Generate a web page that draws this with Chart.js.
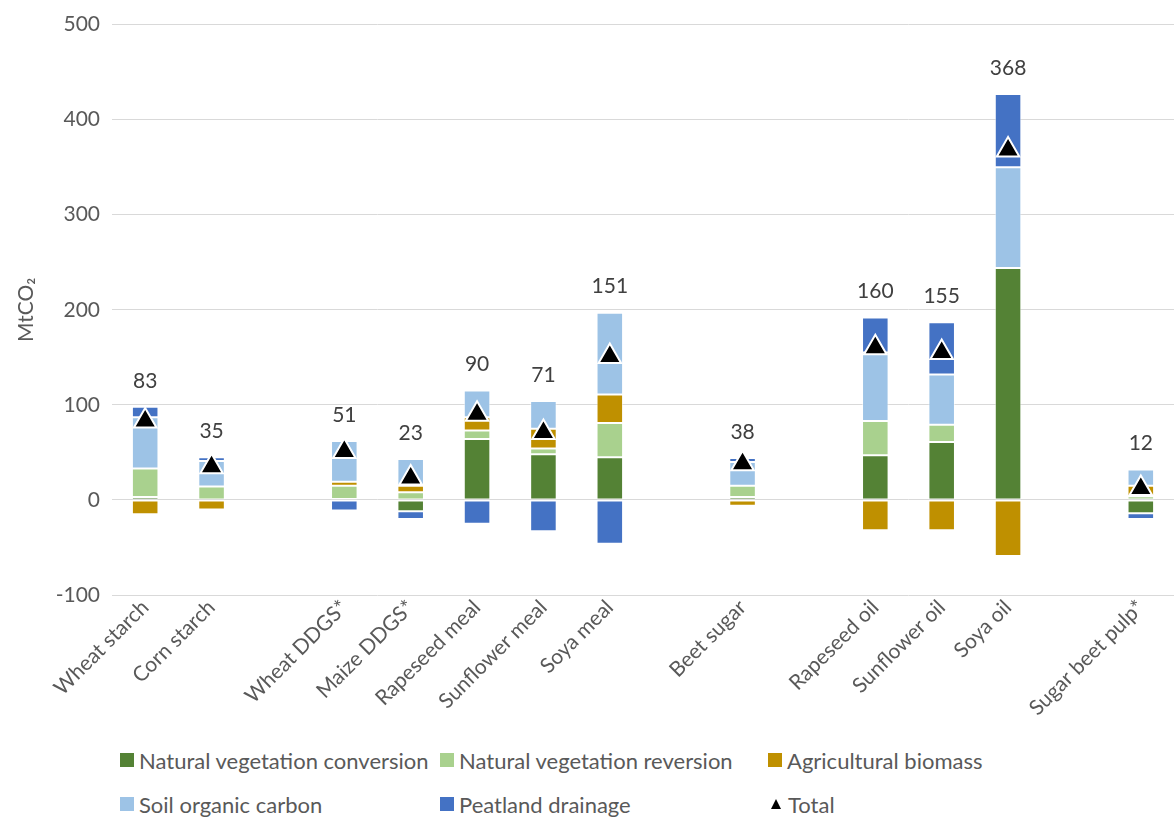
<!DOCTYPE html>
<html><head><meta charset="utf-8">
<script src="https://cdn.jsdelivr.net/npm/chart.js@4.4.1/dist/chart.umd.min.js"></script>
<style>
html,body{margin:0;padding:0;background:#fff;overflow:hidden;}
#wrap{position:relative;width:1174px;height:819px;overflow:hidden;}
#c{position:absolute;left:0;top:0;}
#legend{position:absolute;left:0;top:745px;width:1174px;font-family:Lato,"Open Sans",sans-serif;font-size:22px;color:#595959;}
.li{position:absolute;display:flex;align-items:center;white-space:nowrap;height:30px;}
.sw{width:14px;height:14px;margin-right:5px;}
.tri{width:0;height:0;border-left:5px solid transparent;border-right:5px solid transparent;border-bottom:10px solid #000;margin:0 7px 0 3px;}
</style></head>
<body><div id="wrap"><canvas id="c" width="1174" height="740"></canvas><div id="legend"></div></div>
<script>
const categories = ['Wheat starch','Corn starch','','Wheat DDGS*','Maize DDGS*','Rapeseed meal','Sunflower meal','Soya meal','','Beet sugar','','Rapeseed oil','Sunflower oil','Soya oil','','Sugar beet pulp*'];
const natVegConversion = [3,0,null,1,-12,64,48,45,null,3,null,47,61,244,null,-14];
const natVegReversion  = [30,14,null,14,8,9,6,36,null,12,null,36,18,0,null,4];
const agriBiomass      = [-15,-10,null,4,7,14,21,30,null,-6,null,-32,-32,-59,null,11];
const soilCarbon       = [54,27,null,43,28,28,29,86,null,25,null,72,53,106,null,17];
const peatDrainage     = [11,4,null,-11,-8,-25,-33,-46,null,4,null,37,55,77,null,-6];
const totals           = [83,35,null,51,23,90,71,151,null,38,null,160,155,368,null,12];
const yTicks = [-100,0,100,200,300,400,500];

const seriesNames = ['Natural vegetation conversion','Natural vegetation reversion','Agricultural biomass','Soil organic carbon','Peatland drainage'];
const seriesColors = ['#548235','#A9D18E','#BF9000','#9DC3E6','#4472C4'];
const seriesData = [natVegConversion,natVegReversion,agriBiomass,soilCarbon,peatDrainage];

const FONT = 'Lato, "Open Sans", sans-serif';
const datasets = seriesData.map((d,i)=>({
  type:'bar', label:seriesNames[i], data:d, backgroundColor:seriesColors[i],
  borderColor:'rgba(255,255,255,0.55)', borderWidth:1, borderSkipped:false,
  stack:'s', order:1, barPercentage:0.4, categoryPercentage:1
}));
datasets.push({
  type:'line', label:'Total', data:totals, showLine:false, stack:'t', order:0,
  pointStyle:'triangle', pointRadius:13, pointHoverRadius:13,
  pointBackgroundColor:'#000', pointBorderColor:'#fff', pointBorderWidth:2,
  borderColor:'#000', backgroundColor:'#000'
});

const totalLabels = {
  id:'totalLabels',
  afterDatasetsDraw(chart){
    const ctx = chart.ctx, x = chart.scales.x, y = chart.scales.y;
    ctx.save();
    ctx.font = '21px ' + FONT;
    ctx.fillStyle = '#404040';
    ctx.textAlign = 'center';
    ctx.textBaseline = 'middle';
    totals.forEach((t,i)=>{
      if(t===null) return;
      let top = 0;
      seriesData.forEach(d=>{ if(d[i]>0) top += d[i]; });
      const px = x.getPixelForValue(i);
      const py = y.getPixelForValue(top) - 26;
      ctx.fillText(String(t), px, py);
    });
    ctx.restore();
  }
};

new Chart(document.getElementById('c'), {
  data:{labels:categories, datasets},
  options:{
    responsive:false, animation:false,
    layout:{autoPadding:false, padding:{top:16,right:0,left:0,bottom:0}},
    plugins:{legend:{display:false}, tooltip:{enabled:false}},
    scales:{
      x:{
        stacked:true,
        grid:{display:false, drawTicks:false},
        border:{display:false},
        ticks:{color:'#595959', font:{family:FONT,size:21}, maxRotation:45, minRotation:45, autoSkip:false, padding:0},
        afterFit(s){ s.height = 145; }
      },
      y:{
        stacked:true, min:-100, max:500,
        afterBuildTicks(s){ s.ticks = yTicks.map(v=>({value:v})); },
        grid:{color:'#D9D9D9', lineWidth:1, drawTicks:false},
        border:{display:false},
        ticks:{color:'#595959', font:{family:FONT,size:21}, padding:12},
        title:{display:true, text:'MtCO₂', color:'#595959', font:{family:FONT,size:21}, padding:{top:14,bottom:0}},
        afterFit(s){ s.width = 112; }
      }
    }
  },
  plugins:[totalLabels]
});

// HTML legend in three columns
const legendItems = seriesNames.map((n,i)=>({name:n,color:seriesColors[i]})).concat([{name:'Total',tri:true}]);
const colX = [120,440,768], rowY = [0,44];
const lg = document.getElementById('legend');
legendItems.forEach((it,i)=>{
  const d = document.createElement('div');
  d.className='li';
  d.style.left = colX[i%3]+'px';
  d.style.top = rowY[Math.floor(i/3)]+'px';
  const m = document.createElement('span');
  if(it.tri){ m.className='tri'; } else { m.className='sw'; m.style.background=it.color; }
  d.appendChild(m);
  const t = document.createElement('span'); t.textContent = it.name; d.appendChild(t);
  lg.appendChild(d);
});
</script></body></html>
